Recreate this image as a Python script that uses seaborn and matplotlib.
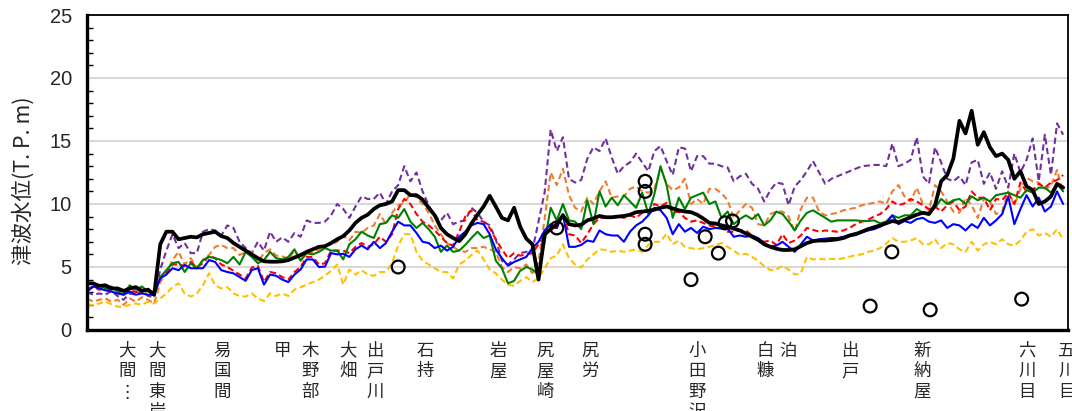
import numpy as np
import pandas as pd
import matplotlib
matplotlib.use("Agg")
import matplotlib.pyplot as plt
import seaborn as sns
from matplotlib.ticker import MultipleLocator
from matplotlib.transforms import blended_transform_factory

sns.set_style("white")
plt.rcParams["font.family"] = ["Noto Sans CJK JP", "DejaVu Sans"]

# alongshore distance (ticks every 50 units)
distance = np.arange(0, 402.5, 2.5)

level_black = [
    3.7, 3.7, 3.5, 3.55, 3.3, 3.3, 3.1, 3.3, 3.4, 3.1, 3.2, 2.8, 6.8, 7.8, 7.8, 7.2, 7.3, 7.4, 7.35, 7.6, 7.7, 7.8, 7.45, 7.3,
    6.9, 6.6, 6.3, 6.0, 5.7, 5.45, 5.42, 5.42, 5.45, 5.55, 5.75, 5.95, 6.2, 6.4, 6.6, 6.65, 6.9, 7.2, 7.45, 7.9, 8.5, 8.9,
    9.15, 9.6, 9.9, 10.0, 10.2, 11.1, 11.1, 10.7, 10.7, 10.35, 9.7, 9.1, 8.1, 7.6, 7.3, 7.05, 7.6, 8.45, 9.15, 9.8, 10.65, 9.8, 8.9,
    8.7, 9.7, 8.2, 7.25, 6.8, 4.0, 7.6, 8.0, 8.4, 9.1, 8.4, 8.3, 8.35, 8.7, 8.85, 9.05, 8.95, 8.95, 9.0, 9.05, 9.15, 9.35, 9.4,
    9.45, 9.55, 9.7, 9.8, 9.65, 9.5, 9.4, 9.35, 9.15, 8.85, 8.5, 8.45, 8.3, 8.2, 8.05, 7.9, 7.65, 7.4, 7.15, 6.8, 6.6, 6.45, 6.35,
    6.35, 6.4, 6.65, 6.9, 7.05, 7.1, 7.1, 7.14, 7.2, 7.3, 7.5, 7.6, 7.8, 8.0, 8.15, 8.3, 8.47, 8.65, 8.55, 8.75, 8.95, 9.15, 9.3,
    9.2, 9.9, 11.8, 12.3, 13.6, 16.6, 15.6, 17.4, 14.7, 15.7, 14.5, 13.8, 14.0, 13.5, 12.0, 12.6, 11.4, 11.1, 10.0, 10.2, 10.6, 11.6, 11.3,
]

level_purple = [
    3.0, 2.8, 2.9, 2.8, 3.1, 2.7, 2.4, 2.9, 2.8, 3.1, 2.7, 2.6, 4.8, 6.3, 7.6, 6.5, 6.9, 6.1, 6.1, 7.8, 8.0, 7.9, 7.5, 8.3,
    8.1, 7.0, 6.5, 6.1, 7.0, 6.3, 7.8, 7.0, 7.35, 7.0, 7.7, 7.4, 8.7, 8.5, 8.5, 8.6, 9.1, 10.0, 9.6, 8.9, 9.8, 10.6,
    10.4, 10.4, 10.9, 10.0, 11.0, 11.5, 13.0, 11.8, 12.5, 11.0, 9.9, 9.0, 8.7, 9.3, 8.4, 8.6, 8.7, 9.7, 9.3, 8.6, 8.3, 7.2, 5.5,
    5.2, 5.6, 6.1, 6.2, 6.3, 8.6, 10.9, 15.9, 14.2, 15.3, 12.0, 11.7, 11.9, 13.6, 14.5, 14.2, 15.2, 13.7, 12.4, 13.0, 13.3, 14.0, 13.3,
    12.6, 14.2, 14.6, 13.4, 12.3, 14.5, 14.4, 12.6, 13.8, 13.8, 13.2, 13.2, 13.0, 12.9, 11.8, 12.2, 12.4, 11.6, 11.2, 10.2, 11.1, 11.7, 11.6,
    9.9, 11.4, 11.9, 12.6, 13.4, 12.5, 11.6, 12.0, 12.2, 12.4, 12.6, 12.8, 13.0, 13.05, 13.1, 13.1, 13.0, 14.8, 13.0, 13.2, 13.5, 15.3, 12.2,
    11.6, 14.5, 13.3, 12.0, 11.8, 12.2, 11.5, 13.3, 13.5, 11.6, 12.5, 11.2, 12.6, 11.3, 14.0, 12.5, 13.5, 15.2, 11.8, 15.5, 12.3, 16.4, 15.5,
]

level_orange = [
    2.5, 2.25, 2.4, 2.5, 2.25, 2.4, 2.0, 2.5, 2.25, 2.6, 2.4, 2.1, 3.8, 4.5, 5.55, 6.2, 5.2, 5.7, 4.9, 5.55, 5.95, 6.6, 6.75, 6.5,
    6.5, 5.95, 6.2, 6.2, 5.4, 6.1, 6.4, 5.9, 5.85, 5.6, 6.3, 5.6, 6.2, 6.1, 6.4, 6.7, 6.8, 7.0, 7.5, 7.1, 7.8, 7.7,
    8.1, 8.3, 9.2, 8.4, 9.3, 9.9, 10.1, 10.8, 10.5, 10.0, 9.3, 8.3, 7.6, 6.9, 6.6, 6.3, 6.2, 6.5, 6.5, 6.6, 6.4, 6.2, 5.0,
    4.6, 5.0, 4.9, 5.2, 4.5, 5.4, 8.8, 12.5, 11.5, 12.8, 10.7, 9.7, 9.4, 10.5, 10.0, 11.0, 11.8, 10.5, 10.6, 10.6, 11.2, 11.4, 11.0,
    10.9, 11.2, 12.8, 11.6, 11.1, 11.3, 12.0, 10.0, 10.4, 10.0, 11.2, 11.2, 10.85, 10.3, 8.9, 9.5, 10.0, 9.7, 8.4, 8.3, 9.2, 9.4, 9.4,
    9.0, 7.8, 9.6, 10.5, 10.5, 9.4, 9.1, 9.2, 9.3, 9.5, 9.6, 9.7, 9.9, 10.0, 10.1, 10.2, 10.0, 11.0, 11.5, 10.6, 10.2, 11.3, 10.0,
    9.5, 11.5, 11.0, 10.2, 9.4, 9.3, 10.5, 9.9, 8.9, 10.4, 10.2, 9.2, 9.4, 11.0, 9.9, 11.2, 12.1, 11.8, 11.7, 11.2, 11.4, 12.7, 10.9,
]

level_green = [
    3.2, 3.45, 3.55, 3.3, 3.45, 3.05, 2.8, 3.55, 3.2, 3.45, 3.05, 2.9, 4.2, 4.75, 5.3, 5.4, 4.6, 5.3, 4.9, 5.55, 5.8, 5.7, 5.55, 5.3,
    5.8, 5.2, 6.2, 5.8, 5.3, 5.55, 6.2, 5.7, 5.6, 5.8, 6.4, 5.5, 6.1, 6.0, 6.2, 6.5, 6.3, 6.3, 5.6, 6.8, 7.2, 7.8,
    7.5, 7.3, 8.4, 8.5, 9.1, 8.9, 9.6, 8.6, 8.1, 8.5, 8.0, 7.4, 6.2, 6.7, 6.2, 6.3, 6.75, 7.3, 7.8, 7.3, 7.5, 5.5, 4.9,
    3.7, 3.9, 4.7, 5.0, 4.8, 4.4, 7.0, 9.7, 8.7, 10.0, 8.7, 8.6, 8.0, 10.3, 8.4, 11.0, 9.8, 10.5, 9.9, 10.7, 10.2, 9.7, 10.9,
    9.2, 10.8, 13.0, 11.5, 8.9, 10.5, 9.6, 10.5, 10.7, 10.9, 10.0, 10.2, 8.9, 9.4, 8.4, 8.8, 9.1, 8.8, 9.2, 8.3, 8.7, 9.4, 9.2,
    8.6, 7.9, 8.7, 9.3, 9.5, 9.2, 8.9, 8.6, 8.7, 8.7, 8.7, 8.7, 8.65, 8.65, 8.7, 8.47, 8.6, 9.1, 8.9, 9.1, 9.1, 9.6, 9.3,
    9.3, 9.7, 10.4, 10.0, 10.3, 10.4, 10.0, 10.6, 10.3, 10.5, 10.2, 10.7, 10.8, 10.9, 10.7, 10.5, 11.1, 10.9, 11.3, 11.3, 10.9, 11.6, 11.0,
]

level_red = [
    3.3, 3.4, 3.2, 3.3, 3.1, 3.2, 2.9, 3.2, 3.0, 3.2, 3.0, 2.8, 4.2, 4.5, 5.2, 5.2, 5.1, 5.4, 5.0, 5.3, 5.9, 5.7, 5.2, 5.0,
    4.7, 4.4, 4.1, 4.95, 5.1, 3.8, 4.6, 4.5, 4.2, 4.0, 4.6, 5.0, 5.8, 5.8, 5.2, 5.3, 6.3, 6.3, 6.3, 6.1, 6.6, 6.9,
    6.6, 6.8, 7.4, 7.0, 7.6, 9.6, 10.4, 10.0, 9.2, 8.6, 8.3, 7.9, 7.4, 6.9, 6.7, 7.8, 9.0, 9.5, 8.7, 8.6, 8.1, 7.2, 6.4,
    5.7, 6.1, 5.9, 6.0, 6.1, 6.8, 7.4, 8.1, 8.1, 9.2, 7.6, 7.5, 6.9, 7.6, 8.4, 8.9, 8.9, 8.9, 9.0, 8.9, 9.1, 8.9, 9.3,
    9.4, 10.0, 9.8, 10.1, 9.3, 9.4, 8.9, 8.6, 8.7, 8.5, 8.3, 8.2, 8.1, 7.8, 7.8, 7.9, 7.9, 7.5, 7.15, 7.0, 7.1, 6.75, 7.6,
    6.9, 7.1, 7.5, 8.1, 7.95, 7.8, 7.9, 7.85, 7.8, 7.9, 8.1, 8.4, 8.6, 8.75, 9.0, 9.2, 9.6, 10.2, 9.9, 10.05, 10.4, 10.2, 9.9,
    9.6, 9.8, 9.4, 9.9, 10.2, 9.5, 9.8, 11.0, 10.5, 10.5, 9.5, 10.4, 10.3, 10.9, 10.0, 11.7, 11.0, 11.1, 11.6, 11.3, 11.7, 11.9, 12.3,
]

level_blue = [
    3.05, 3.45, 3.3, 3.15, 3.05, 2.9, 2.8, 3.05, 2.8, 2.9, 2.8, 2.8, 4.1, 4.4, 4.9, 4.75, 5.15, 4.9, 4.9, 4.9, 5.55, 5.4, 4.75, 4.6,
    4.5, 4.2, 3.9, 4.76, 4.9, 3.6, 4.4, 4.3, 4.0, 3.8, 4.4, 4.8, 5.6, 5.6, 5.0, 5.03, 6.1, 6.0, 6.05, 5.8, 6.4, 6.7,
    6.4, 7.0, 6.5, 6.9, 7.8, 8.6, 8.3, 8.3, 7.7, 7.0, 6.9, 6.5, 6.7, 6.3, 6.6, 7.4, 7.8, 8.3, 8.5, 8.4, 7.6, 6.4, 5.7,
    5.1, 5.4, 5.6, 5.8, 6.5, 7.0, 7.9, 8.4, 8.1, 9.2, 6.6, 6.6, 6.75, 7.1, 7.0, 7.9, 7.6, 7.5, 7.5, 7.0, 7.8, 8.3, 8.6,
    9.1, 9.7, 9.5, 8.9, 7.6, 8.4, 7.8, 8.1, 7.7, 8.2, 8.0, 8.1, 8.05, 8.05, 7.4, 7.5, 7.4, 7.5, 7.3, 6.9, 6.6, 6.7, 7.0,
    6.6, 6.2, 6.8, 7.4, 7.1, 7.2, 7.25, 7.3, 7.3, 7.4, 7.55, 7.7, 7.75, 7.9, 8.0, 8.2, 8.5, 9.1, 8.4, 8.65, 8.5, 8.8, 8.9,
    8.6, 8.5, 8.7, 8.1, 8.4, 8.3, 7.9, 8.4, 8.1, 8.9, 8.3, 8.7, 9.2, 10.6, 8.4, 9.6, 10.7, 9.8, 10.5, 9.4, 9.8, 11.0, 10.0,
]

level_yellow = [
    2.0, 2.0, 2.1, 2.25, 2.05, 1.85, 1.85, 2.0, 2.1, 2.0, 2.25, 2.1, 2.5, 2.9, 3.4, 3.7, 2.9, 2.65, 2.9, 3.55, 4.5, 3.55, 3.3, 3.4,
    2.9, 2.7, 2.65, 2.9, 2.5, 2.3, 2.9, 2.7, 2.9, 2.7, 3.2, 3.4, 3.6, 3.8, 4.0, 4.3, 4.7, 5.2, 3.6, 4.8, 4.4, 4.75,
    4.4, 4.3, 4.6, 4.6, 5.3, 6.7, 7.6, 7.6, 6.2, 5.5, 5.2, 4.9, 4.6, 4.6, 4.1, 5.2, 5.5, 5.95, 6.3, 5.6, 4.8, 4.5, 4.0,
    3.6, 3.5, 3.9, 4.2, 3.8, 4.1, 4.9, 5.7, 5.9, 6.8, 5.7, 5.2, 4.95, 5.6, 6.0, 6.4, 6.35, 6.2, 6.3, 6.2, 6.3, 6.4, 6.2,
    6.75, 7.0, 7.0, 7.65, 6.8, 7.1, 6.6, 6.5, 6.4, 6.5, 6.6, 6.75, 6.9, 6.6, 6.3, 5.95, 6.05, 5.8, 5.5, 5.05, 4.75, 4.8, 5.1,
    4.8, 4.4, 4.5, 5.8, 5.6, 5.65, 5.6, 5.65, 5.6, 5.7, 5.82, 5.95, 6.0, 6.2, 6.3, 6.5, 6.85, 7.3, 7.0, 7.0, 7.1, 7.3, 6.8,
    6.8, 7.2, 6.5, 6.9, 6.8, 6.4, 6.2, 7.0, 6.3, 6.8, 7.0, 6.8, 7.2, 6.8, 6.7, 7.1, 7.8, 8.0, 7.5, 7.7, 7.4, 8.0, 7.2,
]

# surveyed run-up / inundation heights
obs_x = [127.5, 192.5, 228.7, 228.7, 228.7, 228.7, 247.5, 253.3, 258.7, 261.5, 264.5, 320.9, 329.8, 345.5, 383.0]
obs_y = [5.0, 8.1, 11.8, 11.0, 7.6, 6.8, 4.0, 7.4, 6.1, 8.5, 8.65, 1.9, 6.2, 1.6, 2.45]

# place names along the coast and their positions
place_names = ["大間", "大間東岸", "易国間", "甲", "木野部", "大畑", "出戸川", "石持", "岩屋",
               "尻屋崎", "尻労", "小田野沢", "白糠", "泊", "出戸", "新納屋", "六川目", "五川目"]
place_pos = [16.4, 28.7, 55.3, 79.9, 91.4, 107.0, 118.0, 138.5, 168.4,
             187.7, 206.1, 250.0, 277.9, 287.3, 312.7, 342.2, 385.2, 401.6]

series = [
    (level_purple, "#7030A0", (0, (3, 1.7)), 1.5),
    (level_orange, "#ED7D31", (0, (3, 1.7)), 1.5),
    (level_yellow, "#FFC000", (0, (3, 1.7)), 1.5),
    (level_red, "#FF0000", (0, (3, 1.7)), 1.5),
    (level_green, "#008000", "-", 1.5),
    (level_blue, "#0000FF", "-", 1.5),
    (level_black, "#000000", "-", 2.7),
]

fig = plt.figure(figsize=(10.72, 4.11), dpi=100)
ax = fig.add_axes([0.0812, 0.1971, 0.9151, 0.7664])

for vals, col, ls, lw in series:
    df = pd.DataFrame({"distance": distance, "level": vals})
    sns.lineplot(data=df, x="distance", y="level", ax=ax, color=col,
                 linestyle=ls, linewidth=lw, legend=False)

sns.scatterplot(x=obs_x, y=obs_y, ax=ax, marker="o", s=85,
                facecolor="none", edgecolor="black", linewidth=1.6, zorder=5)

ax.set_xlim(0, 402)
ax.set_ylim(0, 25)
ax.xaxis.set_major_locator(MultipleLocator(50))
ax.yaxis.set_major_locator(MultipleLocator(5))
ax.yaxis.set_minor_locator(MultipleLocator(1))
ax.set_xticklabels([])
ax.tick_params(axis="x", which="major", direction="out", length=4, width=1.2, color="black")
ax.tick_params(axis="y", which="major", direction="out", length=5, width=1.2, color="black",
               labelsize=14.5, pad=6)
ax.tick_params(axis="y", which="minor", direction="in", length=4, width=1.0, color="black", left=True)
for lab in ax.get_yticklabels():
    lab.set_fontfamily(["Liberation Sans Narrow", "Liberation Sans", "DejaVu Sans"])

ax.yaxis.grid(True, color="#d9d9d9", linewidth=1.5)
ax.xaxis.grid(False)
ax.set_axisbelow(True)

for side, lw in (("left", 2.4), ("bottom", 2.4), ("top", 1.3), ("right", 1.3)):
    ax.spines[side].set_visible(True)
    ax.spines[side].set_color("black")
    ax.spines[side].set_linewidth(lw)

ax.set_xlabel("")
ax.set_ylabel("津波水位(T. P. m)", fontsize=15.5)
ax.yaxis.set_label_coords(-0.053, 0.475)

trans = blended_transform_factory(ax.transData, ax.transAxes)
for name, pos in zip(place_names, place_pos):
    txt = "\n".join(name)
    if name == "大間":
        txt = txt + "\n⋮"
    ax.text(pos, -0.037, txt, transform=trans, ha="center", va="top",
            fontsize=12.5, linespacing=1.18, clip_on=False)

fig.savefig("out.png", dpi=100)
